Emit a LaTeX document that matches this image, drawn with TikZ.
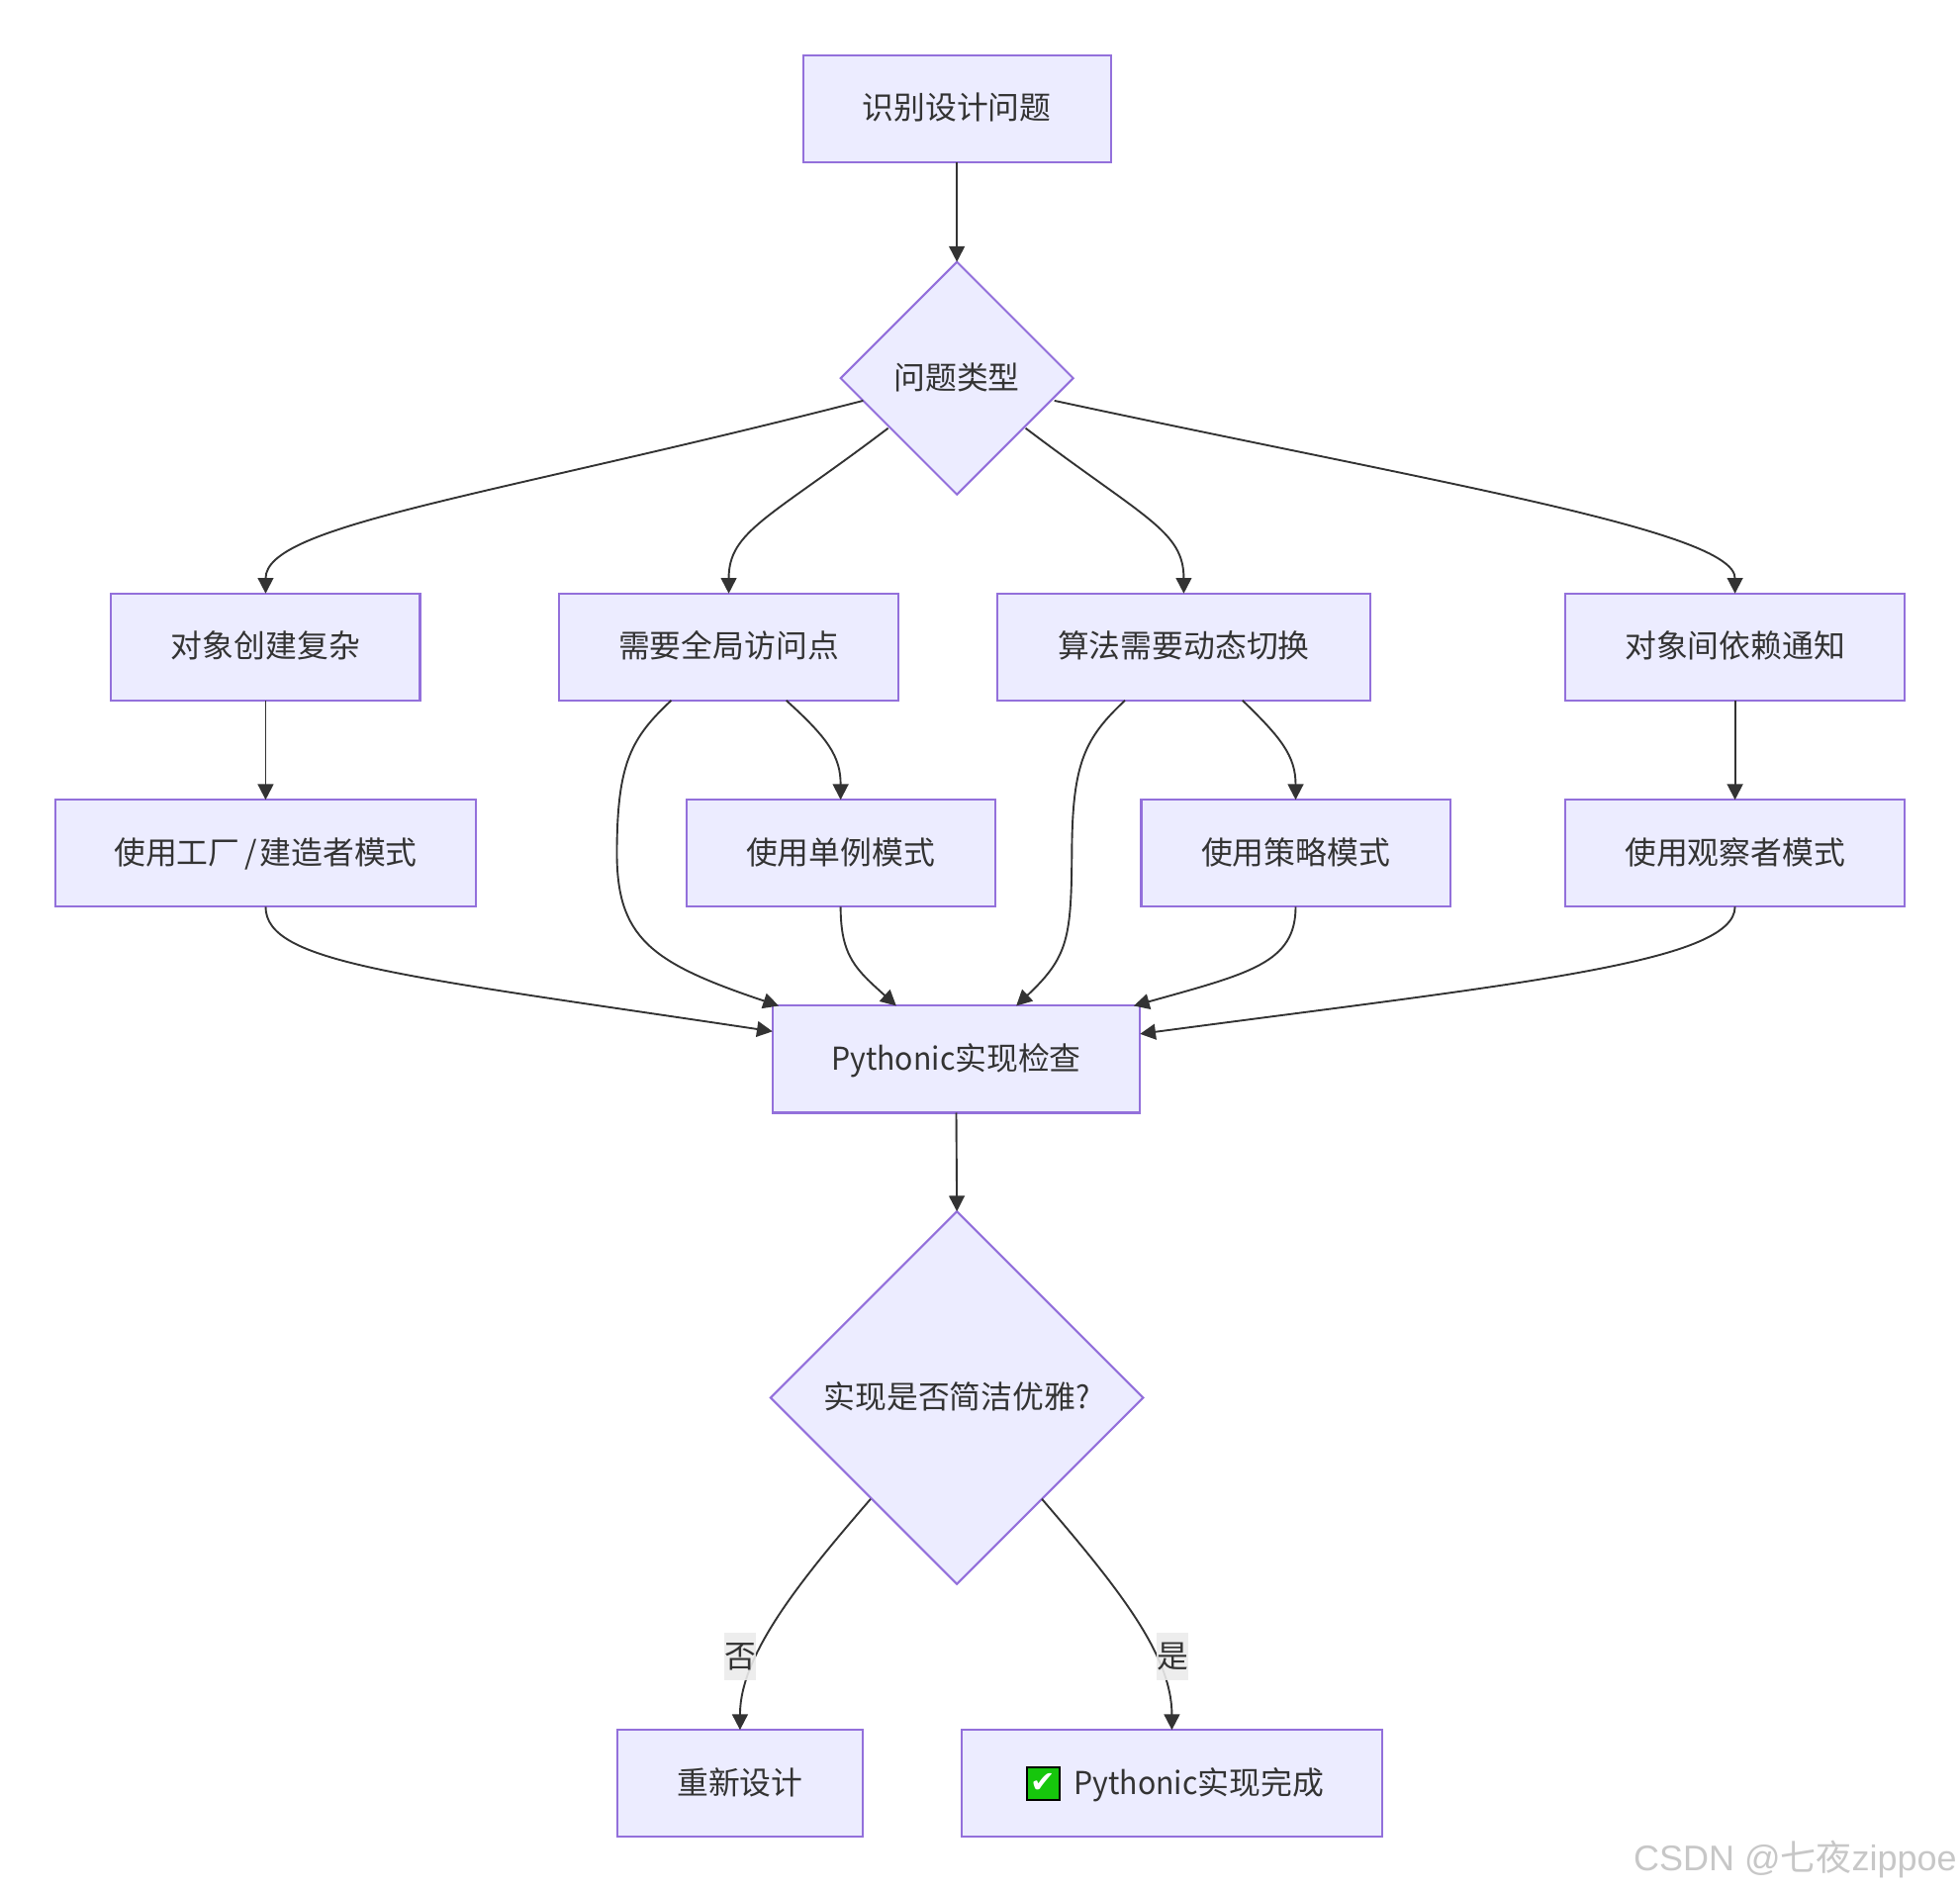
\documentclass[tikz,border=0pt]{standalone}
\usepackage{fontspec}
\setmainfont{Noto Sans CJK SC}
\newfontfamily\pyfont[FakeStretch=0.95]{Noto Sans CJK SC}
\newfontfamily\markfont{DejaVu Sans}
\newfontfamily\wmfont{Liberation Sans}
\usetikzlibrary{arrows.meta,shapes.geometric}

\definecolor{boxfill}{HTML}{ECECFF}
\definecolor{boxline}{HTML}{9370DB}
\definecolor{inkgray}{HTML}{333333}

\tikzset{
    box/.style={draw=boxline, fill=boxfill, line width=1.6pt, rectangle, inner sep=0pt, outer sep=0pt,
        minimum height=85.5pt, text=inkgray, text height=22pt, text depth=4.8pt, font=\fontsize{25.2}{30}\selectfont},
    choice/.style={draw=boxline, fill=boxfill, line width=1.6pt, diamond, aspect=1, inner sep=0pt, outer sep=0pt,
        text=inkgray, text height=22pt, text depth=4.8pt, font=\fontsize{25.2}{30}\selectfont},
    link/.style={draw=inkgray, line width=1.5pt, -{Triangle[length=12.5pt,width=12.5pt]}},
    answer/.style={fill=black!8, fill opacity=0.9, text opacity=1, text=inkgray, inner sep=0pt,
        minimum width=25pt, minimum height=38pt, font=\fontsize{25.2}{30}\selectfont}
}

\begin{document}
\begin{tikzpicture}[x=1pt, y=-1pt]

\useasboundingbox (0,0) rectangle (1568,1512.6);

% Top of the flow
\node[box, minimum width=246pt] (identify) at (765.5,87) {识别设计问题};
\node[choice, minimum size=186pt] (kind) at (765.5,302.5) {问题类型};

% Problem row
\node[box, minimum width=247pt] (creation) at (212.5,517.5) {对象创建复杂};
\node[box, minimum width=272pt] (globalpt) at (583,517.5) {需要全局访问点};
\node[box, minimum width=298pt] (algo) at (947,517.5) {算法需要动态切换};
\node[box, minimum width=272pt] (notify) at (1388,517.5) {对象间依赖通知};

% Pattern row
\node[box, minimum width=337pt] (factory) at (212.5,682.5) {使用工厂\kern4pt/\kern2pt建造者模式};
\node[box, minimum width=247pt] (singleton) at (672.5,682.5) {使用单例模式};
\node[box, minimum width=247pt] (strategy) at (1036.5,682.5) {使用策略模式};
\node[box, minimum width=272pt] (observer) at (1388,682.5) {使用观察者模式};

% Check and outcome
\node[box, minimum width=294pt] (check) at (765,847.3) {{\pyfont Pythonic}实现检查};
\node[choice, minimum size=298pt] (elegant) at (765.5,1118) {实现是否简洁优雅{\pyfont ?}};
\node[box, minimum width=196pt] (redo) at (592,1426.5) {重新设计};
\node[box, minimum width=337pt] (done) at (937.5,1426.5) {\hspace*{43pt}{\pyfont Pythonic}实现完成};
\node[draw=black, line width=1.6pt, fill={rgb,255:red,22;green,198;blue,12}, text=white, inner sep=0pt,
    minimum size=26pt, font=\markfont\fontsize{24}{24}\selectfont] (okmark) at ([xshift=-103pt]done.center) {✔};

% Straight links
\foreach \a/\b in {identify/kind, creation/factory, notify/observer, check/elegant}
    {\draw[link] (\a.south) -- (\b.north);}

% From the first diamond to the problems
\draw[link] ([xshift=-75pt,yshift=-18pt]kind.center) .. controls +(-300,77) and +(0,-55) .. (creation.north);
\draw[link] ([xshift=-55pt,yshift=-40pt]kind.center) .. controls +(-95,72) and +(0,-50) .. (globalpt.north);
\draw[link] ([xshift=55pt,yshift=-40pt]kind.center) .. controls +(95,72) and +(0,-50) .. (algo.north);
\draw[link] ([xshift=78pt,yshift=-18pt]kind.center) .. controls +(307,66) and +(0,-50) .. (notify.north);

% Problems to patterns
\draw[link] ([xshift=46pt]globalpt.south) .. controls +(33,30) and +(0,-35) .. (singleton.north);
\draw[link] ([xshift=47pt]algo.south) .. controls +(31,30) and +(0,-35) .. (strategy.north);

% Down to the check
\draw[link] (factory.south) .. controls +(0,45) and +(-300,-45) .. (check.west |- 0,825);
\draw[link] ([xshift=-46pt]globalpt.south) .. controls +(-32,30) and (494,610) .. (493.5,680)
    .. controls (493,750) and (520,770) .. ([xshift=5pt]check.north west);
\draw[link] (singleton.south) .. controls +(0,40) and +(-32,-29) .. ([xshift=-48pt]check.north);
\draw[link] ([xshift=-47pt]algo.south) .. controls +(-32,30) and (858,610) .. (857.5,680)
    .. controls (857,750) and (855,765) .. ([xshift=48pt]check.north);
\draw[link] (strategy.south) .. controls +(0,45) and +(93,-26) .. ([xshift=-5pt]check.north east);
\draw[link] (observer.south) .. controls +(0,45) and +(300,-40) .. (check.east |- 0,827);

% Answers
\draw[link] ([xshift=-69pt,yshift=-81pt]elegant.center) .. controls +(-57,66) and +(0,-60) .. (redo.north);
\draw[link] ([xshift=68pt,yshift=-81pt]elegant.center) .. controls +(61,71) and +(0,-60) .. (done.north);
\node[answer] (no) at (592,1325) {否};
\node[answer] (yes) at (938,1325) {是};

% Watermark
\node[anchor=east, inner sep=0pt, text=black!22, font=\fontsize{28.5}{30}\selectfont] (csdn) at (1565.6,1487)
    {{\wmfont CSDN @}七夜{\wmfont zippoe}};

\end{tikzpicture}
\end{document}
